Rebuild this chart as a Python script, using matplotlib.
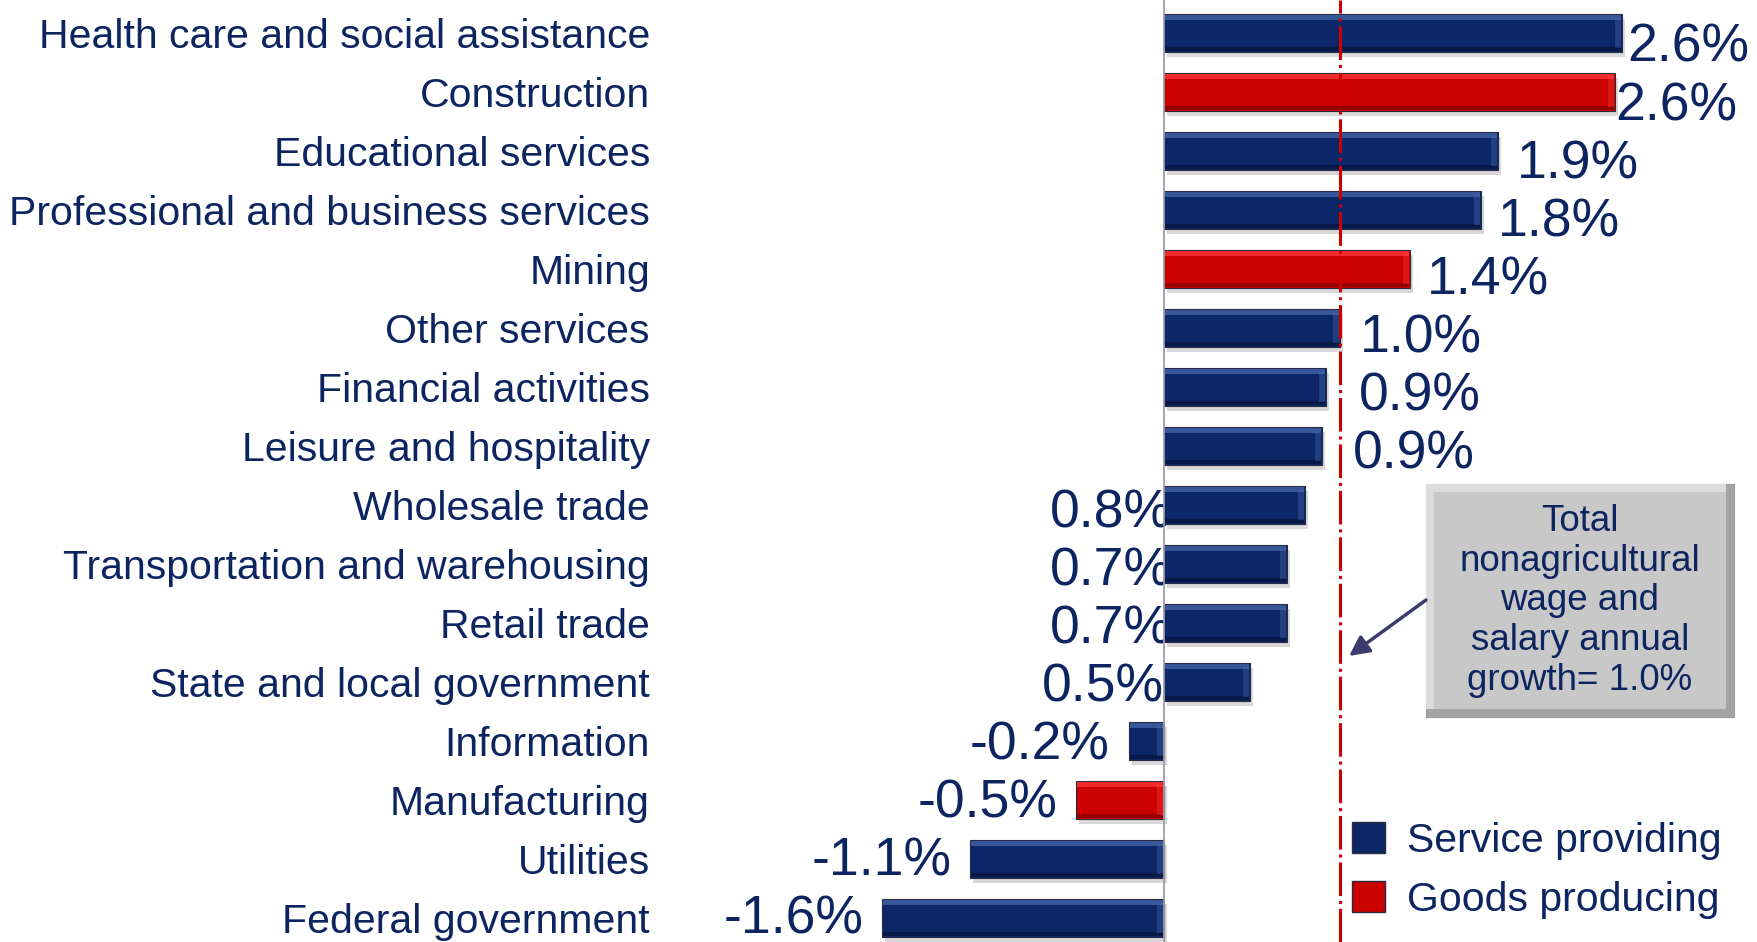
import matplotlib
matplotlib.use('Agg')
import matplotlib.pyplot as plt
from matplotlib.patches import Rectangle, Patch

# wage and salary growth by industry, top to bottom
industries = ['Health care and social assistance', 'Construction', 'Educational services',
              'Professional and business services', 'Mining', 'Other services',
              'Financial activities', 'Leisure and hospitality', 'Wholesale trade',
              'Transportation and warehousing', 'Retail trade', 'State and local government',
              'Information', 'Manufacturing', 'Utilities', 'Federal government']
growth = [2.6, 2.56, 1.9, 1.8, 1.4, 1.0, 0.92, 0.9, 0.8, 0.7, 0.7, 0.49, -0.2, -0.5, -1.1, -1.6]
growth_labels = ['2.6%', '2.6%', '1.9%', '1.8%', '1.4%', '1.0%', '0.9%', '0.9%', '0.8%', '0.7%',
                 '0.7%', '0.5%', '-0.2%', '-0.5%', '-1.1%', '-1.6%']
sector = ['service', 'goods', 'service', 'service', 'goods', 'service', 'service', 'service',
          'service', 'service', 'service', 'service', 'service', 'goods', 'service', 'service']
total_growth = 1.0
total_text = 'Total\nnonagricultural\nwage and\nsalary annual\ngrowth= 1.0%'

# label gap from bar end, pixels (layout only)
label_gap = [6, 1, 18, 17, 16, 20, 33, 30, 8, 8, 8, 0, 19, 19, 19, 19]

navy = '#0C2460'
cols = {'service': ('#0B2768', '#4B6CB0', '#06163F'),
        'goods': ('#CC0000', '#FF4040', '#8A0000')}

plt.rcParams['font.family'] = ['Liberation Sans', 'DejaVu Sans']

W, H = 1758, 942
fig = plt.figure(figsize=(W / 100, H / 100), dpi=100)
left_px = 655
ax = fig.add_axes([left_px / W, 0, 1 - left_px / W, 1])

zero_px, unit_px = 1164, 176
row0, step = 33, 59
ax.set_xlim((left_px - zero_px) / unit_px, (W - zero_px) / unit_px)
ax.set_ylim((H - row0) / step, -row0 / step)

bh = 0.63
px_x = 1.0 / unit_px
px_y = 1.0 / step
val_fs = 38.5
half_digit = 0.355 * val_fs / 0.72
for i, v in enumerate(growth):
    main, light, dark = cols[sector[i]]
    x0 = min(0, v)
    w = abs(v)
    # soft shadow
    ax.barh(i + 5 * px_y, w, left=x0 + 3 * px_x, height=bh, color='#909090', alpha=0.35,
            zorder=1, linewidth=0)
    ax.barh(i, w, left=x0, height=bh, color=main, edgecolor='#2A2A40', linewidth=0.8, zorder=2)
    # bevel strips
    ax.barh(i - bh / 2 + 3 * px_y, w - 2 * px_x, left=x0 + px_x, height=5 * px_y, color=light,
            alpha=0.7, linewidth=0, zorder=3)
    ax.barh(i + bh / 2 - 3 * px_y, w - 2 * px_x, left=x0 + px_x, height=4 * px_y, color=dark,
            alpha=0.8, linewidth=0, zorder=3)
    end = x0 + w - 7 * px_x
    ax.barh(i, 6 * px_x, left=end, height=bh - 8 * px_y, color=light, alpha=0.35,
            linewidth=0, zorder=3)

    # digits sit a little below the bar centre, drifting up toward the bottom rows
    dy = -(10 - 0.87 * i + half_digit) * 0.72
    if v < 0:
        ax.annotate(growth_labels[i], xy=(v, i), xytext=(-label_gap[i] * 0.72, dy),
                    textcoords='offset points', ha='right', va='baseline', fontsize=val_fs,
                    color=navy, zorder=6)
    elif v < 0.85:
        ax.annotate(growth_labels[i], xy=(0, i), xytext=(label_gap[i] * 0.72, dy),
                    textcoords='offset points', ha='right', va='baseline', fontsize=val_fs,
                    color=navy, zorder=1.5)
    else:
        ax.annotate(growth_labels[i], xy=(v, i), xytext=(label_gap[i] * 0.72, dy),
                    textcoords='offset points', ha='left', va='baseline', fontsize=val_fs,
                    color=navy, zorder=6)

ax.axvline(0, color='#9C9CAC', lw=1.3, zorder=5)
ax.axvline(total_growth, color='#D00000', lw=2.2, linestyle=(0, (11, 1.6, 1, 1.6)), zorder=4)

ax.set_yticks(range(len(industries)))
ax.set_yticklabels(industries, fontsize=29.5, color=navy)
ax.tick_params(axis='y', length=0, pad=3.6)
ax.set_xticks([])
for s in ax.spines.values():
    s.set_visible(False)

# callout box
bx0, bx1 = (1426 - zero_px) / unit_px, (1734 - zero_px) / unit_px
by0, by1 = (484 - row0) / step, (717 - row0) / step
ins_x, ins_y = 8 * px_x, 8 * px_y
ax.add_patch(Rectangle((bx0, by0), bx1 - bx0, by1 - by0, facecolor='#A4A4A4', edgecolor='#9A9A9A',
                       lw=0.8, zorder=7))
ax.add_patch(Rectangle((bx0, by0), bx1 - bx0 - ins_x, by1 - by0 - ins_y, facecolor='#DCDCDC',
                       lw=0, zorder=7))
ax.add_patch(Rectangle((bx0 + ins_x, by0 + ins_y), bx1 - bx0 - 2 * ins_x, by1 - by0 - 2 * ins_y,
                       facecolor='#C8C8C8', lw=0, zorder=7))
ax.text((bx0 + bx1) / 2, (601 - row0) / step, total_text, ha='center', va='center', fontsize=26.5,
        linespacing=1.18, color=navy, zorder=8)
ax.annotate('', xy=((1349 - zero_px) / unit_px, (656 - row0) / step),
            xytext=(bx0, (600 - row0) / step),
            arrowprops=dict(arrowstyle='-|>', color='#3C3C6E', lw=2.5, mutation_scale=30,
                            shrinkA=0, shrinkB=0), zorder=8)

handles = [Patch(facecolor=cols['service'][0], edgecolor='#2A2A40'),
           Patch(facecolor=cols['goods'][0], edgecolor='#2A2A40')]
ax.legend(handles, ['Service providing', 'Goods producing'], loc='upper left',
          bbox_to_anchor=(1352 / W, 1 - 822 / H), bbox_transform=fig.transFigure, frameon=False,
          fontsize=29.5, handlelength=0.8, handleheight=0.8, handletextpad=0.55,
          labelspacing=0.51, borderpad=0, borderaxespad=0, labelcolor=navy)

fig.savefig('out.png', dpi=100)
